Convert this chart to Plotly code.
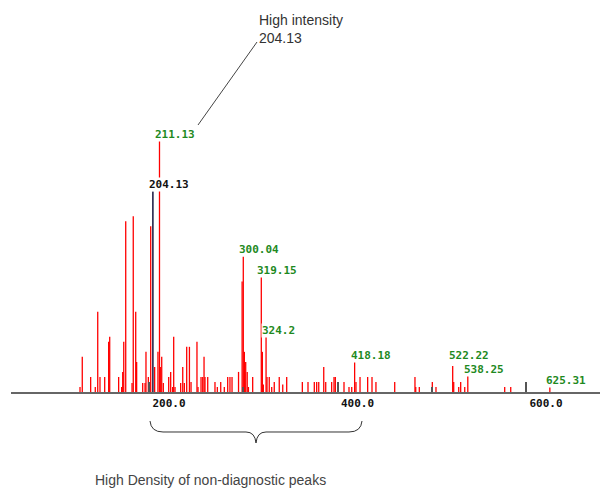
import plotly.graph_objects as go

# ---- data (m/z, relative intensity %) ----
mz = [126.8, 129.2, 138.1, 143.0, 145.6, 148.0, 153.0, 157.2, 158.3, 167.8, 171.0, 172.1, 173.2, 175.3,
      182.0, 183.3, 185.9, 186.9, 193.3, 195.8, 196.8, 199.3, 201.8, 206.0, 209.5, 211.13, 212.0, 213.5,
      215.2, 220.9, 223.0, 225.1, 226.2, 227.6, 233.6, 235.8, 237.5, 240.0, 242.9, 244.6, 250.9, 252.0,
      255.2, 257.0, 258.4, 259.4, 262.3, 270.0, 272.5, 276.1, 279.9, 283.5, 285.9, 288.1, 295.0, 298.8,
      300.04, 301.2, 302.6, 304.2, 305.5, 310.0, 319.15, 320.3, 321.3, 324.2, 325.2, 327.6, 330.2, 332.9,
      338.2, 341.9, 346.1, 362.7, 368.7, 375.4, 377.9, 380.1, 385.4, 387.5, 393.8, 396.3, 397.7, 406.9,
      412.2, 415.1, 418.18, 419.6, 423.9, 432.0, 436.6, 440.8, 460.7, 482.2, 483.0, 486.8, 500.6, 504.5,
      522.22, 523.3, 528.6, 530.7, 535.0, 538.25, 577.4, 583.8, 625.31]
intensity = [2, 14, 6, 2, 32, 6, 6, 20, 22, 6, 2, 8, 20, 68,
             3.6, 70, 32, 12, 3.6, 3.6, 16, 6, 66, 10, 16, 100, 10, 14,
             3.6, 6, 8, 2, 22, 2, 3.6, 10, 3.6, 18, 18, 4, 20, 2,
             6, 6, 14, 6, 6, 4, 2, 4, 2, 6, 6, 6, 8, 44,
             54, 16, 12, 8, 2, 6, 46, 16, 3, 22, 6, 6, 2, 4,
             6, 3, 6, 4, 4, 4, 4, 4, 10, 4, 4, 6, 6, 4,
             2, 2, 12, 4, 6, 6, 6, 4, 4, 6, 2, 2, 4, 2,
             10.4, 4, 2, 4, 2, 6.4, 2, 2, 2]

precursor_mz = [204.13]
precursor_int = [80]

label_mz = [211.13, 204.13, 300.04, 319.15, 324.2, 418.18, 522.22, 538.25, 625.31]
label_text = ["211.13", "204.13", "300.04", "319.15", "324.2", "418.18", "522.22", "538.25", "625.31"]
label_color = ["#1f8a1f", "#111111", "#1f8a1f", "#1f8a1f", "#1f8a1f", "#1f8a1f", "#1f8a1f", "#1f8a1f", "#1f8a1f"]

tick_vals = [200, 400, 600]

# ---- layout geometry ----
W, H = 602, 491
ML, MR, MT, MB = 11, 2, 0, 99
PW, PH = W - ML - MR, H - MT - MB
label_yshift = {"522.22": 3}


def px_to_paper(px, py):
    return (px - ML) / PW, 1 - (py - MT) / PH


def stems(xs, ys):
    sx, sy = [], []
    for x, y in zip(xs, ys):
        sx += [x, x, None]
        sy += [0, y, None]
    return sx, sy


fig = go.Figure()
rx, ry = stems(mz, intensity)
fig.add_trace(go.Scatter(x=rx, y=ry, mode="lines", line=dict(color="#ff0000", width=1.3),
                         hoverinfo="skip", showlegend=False))
bx, by = stems(precursor_mz, precursor_int)
fig.add_trace(go.Scatter(x=bx, y=by, mode="lines", line=dict(color="#15153f", width=1.5),
                         hoverinfo="skip", showlegend=False))

all_int = dict(zip(mz + precursor_mz, intensity + precursor_int))
annotations = []
for m, t, c in zip(label_mz, label_text, label_color):
    annotations.append(dict(x=m, y=all_int[m], xref="x", yref="y", text=t, showarrow=False,
                            xanchor="left", yanchor="bottom", xshift=-5,
                            yshift=label_yshift.get(t, -1),
                            bgcolor="white", borderpad=0,
                            font=dict(family="DejaVu Sans Mono", size=11, color=c, weight="bold")))

tx, ty = px_to_paper(257, 10)
annotations.append(dict(x=tx, y=ty, xref="paper", yref="paper", text="High intensity<br>204.13",
                        showarrow=False, xanchor="left", yanchor="top", align="left",
                        font=dict(family="Liberation Sans", size=14, color="#333333")))
bx0, by0 = px_to_paper(93, 480)
annotations.append(dict(x=bx0, y=by0, xref="paper", yref="paper",
                        text="High Density of non-diagnostic peaks",
                        showarrow=False, xanchor="left", yanchor="middle",
                        font=dict(family="Liberation Sans", size=14, color="#444444")))

shapes = []
l0 = px_to_paper(198, 125)
l1 = px_to_paper(257, 42)
shapes.append(dict(type="line", xref="paper", yref="paper", x0=l0[0], y0=l0[1], x1=l1[0], y1=l1[1],
                   line=dict(color="#444444", width=1)))

brace_px = [("M", 150, 421), ("Q", 151, 432), ("", 163, 432), ("L", 246, 432), ("Q", 255, 432),
            ("", 256, 443), ("Q", 257, 432), ("", 266, 432), ("L", 349, 432), ("Q", 361, 432),
            ("", 362, 421)]
path = ""
for cmd, px, py in brace_px:
    a, b = px_to_paper(px, py)
    path += f"{cmd}{a:.5f},{b:.5f} "
shapes.append(dict(type="path", xref="paper", yref="paper", path=path.strip(),
                   line=dict(color="#333333", width=1)))

scale = 0.9425
x_lo = 200 - (149 - ML) / scale
x_hi = 200 + (W - MR - 149) / scale
y_hi = PH / 2.51

fig.update_layout(
    width=W, height=H, margin=dict(l=ML, r=MR, t=MT, b=MB),
    paper_bgcolor="white", plot_bgcolor="white",
    xaxis=dict(range=[x_lo, x_hi], tickmode="array", tickvals=tick_vals, tickformat=".1f",
               ticks="inside", ticklen=10, tickwidth=2, tickcolor="#555555",
               showline=True, linecolor="#666666", linewidth=2,
               showgrid=False, zeroline=False, ticklabelshift=20,
               tickfont=dict(family="DejaVu Sans Mono", size=11, color="#111111", weight="bold"),
               minor=dict(tickmode="array", tickvals=[300, 500], ticks="inside", ticklen=5,
                          tickwidth=2, tickcolor="#555555", showgrid=False)),
    yaxis=dict(range=[0, y_hi], visible=False),
    annotations=annotations, shapes=shapes,
    showlegend=False,
)

fig.write_html("out.html")
